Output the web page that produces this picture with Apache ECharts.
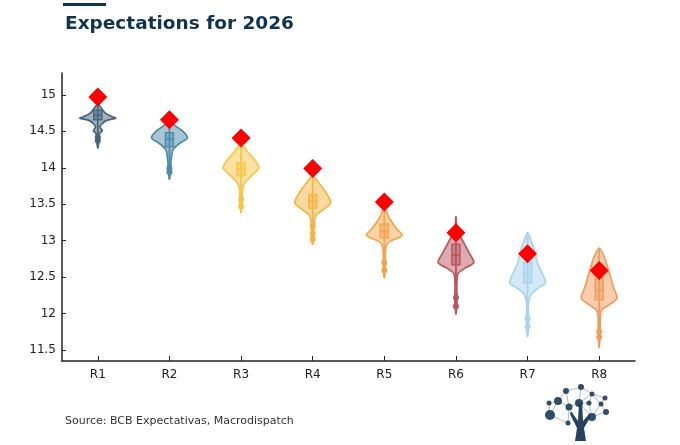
<!DOCTYPE html>
<html>
<head>
<meta charset="utf-8">
<script src="https://cdn.jsdelivr.net/npm/echarts@6/dist/echarts.min.js"></script>
<style>html,body{margin:0;padding:0;background:#fff}#c{width:680px;height:445px}</style>
</head>
<body>
<div id="c"></div>
<script>
const categories = ['R1','R2','R3','R4','R5','R6','R7','R8'];
const yTicks = [11.5, 12, 12.5, 13, 13.5, 14, 14.5, 15];
const diamondValues = [14.97, 14.66, 14.41, 13.99, 13.53, 13.11, 12.82, 12.59];
const q1Values = [14.66, 14.29, 13.89, 13.45, 13.04, 12.67, 12.42, 12.19];
const medianValues = [14.72, 14.39, 13.98, 13.54, 13.13, 12.80, 12.55, 12.32];
const q3Values = [14.79, 14.48, 14.07, 13.63, 13.23, 12.95, 12.70, 12.49];
const outlierValues = [
  [14.42, 14.37],
  [13.99, 13.94],
  [13.57, 13.47],
  [13.20, 13.10, 13.02],
  [12.70, 12.59],
  [12.22, 12.10],
  [11.93, 11.82],
  [11.75, 11.68]
];
// violin density profiles: [value, relative half-width], top to bottom
const violinR1 = [[14.87,0],[14.81,0.22],[14.75,0.42],[14.70,0.8],[14.68,1.0],[14.65,0.5],[14.60,0.22],[14.55,0.13],[14.51,0.25],[14.47,0.1],[14.41,0.06],[14.33,0.04],[14.27,0]];
const violinR2 = [[14.62,0],[14.56,0.42],[14.49,0.8],[14.41,1.0],[14.34,0.6],[14.25,0.2],[14.15,0.12],[14.07,0.08],[13.97,0.1],[13.93,0.05],[13.84,0]];
const violinR3 = [[14.32,0],[14.21,0.4],[14.11,0.76],[14.00,1.0],[13.90,0.62],[13.81,0.25],[13.73,0.1],[13.60,0.06],[13.56,0.08],[13.47,0.05],[13.38,0]];
const violinR4 = [[13.89,0],[13.79,0.35],[13.67,0.72],[13.52,1.0],[13.42,0.55],[13.36,0.22],[13.29,0.1],[13.19,0.08],[13.11,0.05],[13.01,0.06],[12.95,0]];
const violinR5 = [[13.45,0],[13.33,0.24],[13.25,0.44],[13.15,0.74],[13.08,1.0],[13.04,0.8],[12.99,0.3],[12.92,0.1],[12.78,0.05],[12.70,0.06],[12.59,0.05],[12.49,0]];
const violinR6 = [[13.33,0],[13.20,0.04],[13.09,0.18],[12.98,0.42],[12.84,0.72],[12.70,1.0],[12.63,0.55],[12.55,0.12],[12.40,0.05],[12.22,0.06],[12.10,0.05],[11.99,0]];
const violinR7 = [[13.11,0],[12.97,0.24],[12.84,0.42],[12.70,0.55],[12.56,0.8],[12.42,1.0],[12.36,0.65],[12.29,0.28],[12.19,0.08],[12.05,0.04],[11.93,0.05],[11.82,0.05],[11.68,0]];
const violinR8 = [[12.90,0],[12.78,0.28],[12.64,0.47],[12.49,0.65],[12.36,0.8],[12.21,1.0],[12.12,0.55],[12.05,0.15],[11.96,0.06],[11.75,0.06],[11.68,0.05],[11.53,0]];
const violins = [violinR1, violinR2, violinR3, violinR4, violinR5, violinR6, violinR7, violinR8];
const colors = ['#47647d','#4f8baa','#f7c548','#f5b443','#f3a54c','#b9565f','#a8d4ee','#ef9c5e'];

function rgba(hex, a) {
  const n = parseInt(hex.slice(1), 16);
  return 'rgba(' + ((n >> 16) & 255) + ',' + ((n >> 8) & 255) + ',' + (n & 255) + ',' + a + ')';
}

const chart = echarts.init(document.getElementById('c'), null, {renderer: 'canvas'});

function renderViolin(params, api) {
  const idx = api.value(0);
  const color = colors[idx];
  const band = api.size([1, 0])[0];
  const maxHalf = band * 0.25;
  const boxHalf = band * 0.056;
  const cx = api.coord([idx, medianValues[idx]])[0];
  const prof = violins[idx];
  const right = prof.map(p => [cx + p[1] * maxHalf, api.coord([idx, p[0]])[1]]);
  const left = prof.slice(1, -1).reverse().map(p => [cx - p[1] * maxHalf, api.coord([idx, p[0]])[1]]);
  const children = [];
  children.push({
    type: 'polygon',
    shape: {points: right.concat(left), smooth: 0.25},
    style: {fill: rgba(color, 0.5), stroke: color, lineWidth: 1.7}
  });
  const yTop = api.coord([idx, prof[0][0]])[1];
  const yBot = api.coord([idx, prof[prof.length - 1][0]])[1];
  children.push({type: 'line', shape: {x1: cx, y1: yTop, x2: cx, y2: yBot}, style: {stroke: color, lineWidth: 1.8}});
  const yq3 = api.coord([idx, q3Values[idx]])[1];
  const yq1 = api.coord([idx, q1Values[idx]])[1];
  const ym = api.coord([idx, medianValues[idx]])[1];
  children.push({
    type: 'rect',
    shape: {x: cx - boxHalf, y: yq3, width: boxHalf * 2, height: yq1 - yq3},
    style: {fill: rgba(color, 0.45), stroke: color, lineWidth: 1.5}
  });
  children.push({type: 'line', shape: {x1: cx - boxHalf, y1: ym, x2: cx + boxHalf, y2: ym}, style: {stroke: color, lineWidth: 1.5}});
  outlierValues[idx].forEach(v => {
    const y = api.coord([idx, v])[1];
    children.push({type: 'circle', shape: {cx: cx, cy: y, r: 3}, style: {fill: color}});
  });
  return {type: 'group', children: children};
}

// logo (decorative tree)
const logoNodes = [[550,415],[558,401],[569,407],[579,403],[581,387],[566,391],[592,417],[592,394],[605,398],[606,412],[601,404],[549,403],[568,423],[589,403]];
const logoEdges = [[0,1],[1,2],[2,3],[3,4],[4,5],[5,1],[3,7],[7,8],[8,10],[10,9],[9,6],[6,3],[4,7],[11,1],[11,0],[0,12],[2,12],[5,2],[7,10],[13,7],[13,6],[13,3],[6,10]];
const logoR = [5,4,3.5,4,3,3,4,2.5,2.5,3,2.5,2.5,2.5,2.5];
const graphics = [
  {type: 'rect', left: 63, top: 3, shape: {width: 43, height: 3}, style: {fill: '#0f3450'}},
  {type: 'text', left: 65, top: 416, style: {text: 'Source: BCB Expectativas, Macrodispatch', font: '11px "DejaVu Sans"', fill: '#333'}}
];
logoEdges.forEach(e => graphics.push({type: 'line', shape: {x1: logoNodes[e[0]][0], y1: logoNodes[e[0]][1], x2: logoNodes[e[1]][0], y2: logoNodes[e[1]][1]}, style: {stroke: '#9aa9b8', lineWidth: 0.8}, silent: true}));
logoNodes.forEach((n, i) => graphics.push({type: 'circle', shape: {cx: n[0], cy: n[1], r: logoR[i]}, style: {fill: '#2f4e69'}, silent: true}));
graphics.push({type: 'polygon', shape: {points: [[575,441],[586,441],[584,428],[591,416],[590,413],[583,421],[582,402],[579,402],[578,421],[571,411],[570,414],[577,428]]}, style: {fill: '#25435f'}, silent: true});

chart.setOption({
  animation: false,
  backgroundColor: '#fff',
  title: {
    text: 'Expectations for 2026',
    left: 60, top: 10,
    textStyle: {fontFamily: 'DejaVu Sans', fontSize: 18.5, fontWeight: 'bold', color: '#0f3450'}
  },
  graphic: graphics,
  grid: {left: 62, right: 45, top: 73, bottom: 84, containLabel: false},
  xAxis: {
    type: 'category',
    data: categories,
    axisLine: {lineStyle: {color: '#222', width: 1.5}},
    axisTick: {show: true, inside: true, alignWithLabel: true, length: 5, lineStyle: {color: '#222'}},
    axisLabel: {color: '#222', fontSize: 12, fontFamily: 'DejaVu Sans', margin: 8}
  },
  yAxis: {
    type: 'value',
    min: 11.35, max: 15.3,
    splitLine: {show: false},
    axisLine: {show: true, lineStyle: {color: '#222', width: 1.5}},
    axisTick: {show: true, inside: true, length: 4, customValues: yTicks, lineStyle: {color: '#222'}},
    axisLabel: {color: '#222', fontSize: 12, fontFamily: 'DejaVu Sans', margin: 6, customValues: yTicks}
  },
  series: [
    {
      type: 'custom',
      renderItem: renderViolin,
      data: categories.map((c, i) => [i]),
      encode: {x: 0},
      z: 2
    },
    {
      type: 'scatter',
      data: diamondValues.map((v, i) => [i, v]),
      symbol: 'diamond',
      symbolSize: 19,
      itemStyle: {color: '#ff0000', opacity: 1},
      z: 5
    }
  ]
});
</script>
</body>
</html>
